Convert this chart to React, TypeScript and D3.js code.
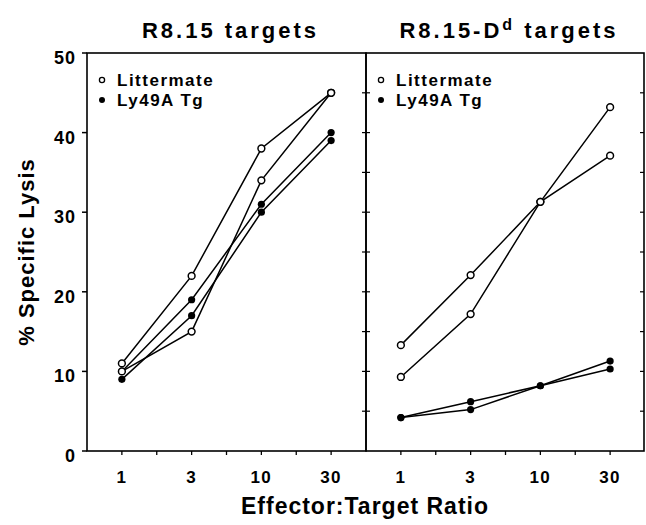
import React, { useEffect, useRef } from 'react';
import * as d3 from 'd3';

// E:T ratios on the x axis
const ratios = ['1', '3', '10', '30'];
const yTicks = [0, 10, 20, 30, 40, 50];

// R8.15 targets
const r815Littermate1 = [11, 22, 38, 45];
const r815Littermate2 = [10, 15, 34, 45];
const r815Tg1 = [10, 19, 31, 40];
const r815Tg2 = [9, 17, 30, 39];

// R8.15-Dd targets
const r815DdLittermate1 = [13.3, 22.1, 31.3, 37.1];
const r815DdLittermate2 = [9.3, 17.2, 31.3, 43.2];
const r815DdTg1 = [4.2, 6.2, 8.2, 11.3];
const r815DdTg2 = [4.2, 5.2, 8.2, 10.3];

const legendLabels = ['Littermate', 'Ly49A Tg'];

const FONT = '"Liberation Sans", Arial, Helvetica, sans-serif';

const App = () => {
    const ref = useRef<SVGSVGElement>(null);

    useEffect(() => {
        const svg = d3.select(ref.current);
        svg.selectAll('*').remove();

        const width = 646, height = 525;
        const top = 53, bottom = 451;
        const panelEdges = [87, 366, 644];

        const y = d3.scaleLinear().domain([0, 50]).range([bottom, top]);

        const panels = [
            { title: 'R8.15 targets', sup: '', open: [r815Littermate1, r815Littermate2], filled: [r815Tg1, r815Tg2] },
            { title: 'R8.15-D', sup: 'd', open: [r815DdLittermate1, r815DdLittermate2], filled: [r815DdTg1, r815DdTg2] },
        ];

        const g = svg.append('g').attr('font-family', FONT).attr('font-weight', 'bold');

        panels.forEach((p, pi) => {
            const x0 = panelEdges[pi], x1 = panelEdges[pi + 1];
            const x = d3.scalePoint<string>().domain(ratios).range([x0, x1 + (pi === 1 ? 1 : 0)]).padding(0.5);
            const pg = g.append('g');

            // frame
            pg.append('rect')
                .attr('x', x0).attr('y', top)
                .attr('width', x1 - x0).attr('height', bottom - top)
                .attr('fill', 'none').attr('stroke', '#000').attr('stroke-width', 1.6);

            // x ticks at points and halfway between
            const tickXs: number[] = [];
            ratios.forEach((r, i) => {
                tickXs.push(x(r)!);
                if (i < ratios.length - 1) tickXs.push((x(r)! + x(ratios[i + 1])!) / 2);
            });
            pg.selectAll('xtick').data(tickXs).enter().append('line')
                .attr('x1', d => d).attr('x2', d => d)
                .attr('y1', bottom).attr('y2', bottom + 4)
                .attr('stroke', '#000').attr('stroke-width', 1.3);

            pg.selectAll('xlab').data(ratios).enter().append('text')
                .attr('x', d => x(d)!).attr('y', 483)
                .attr('text-anchor', 'middle').attr('font-size', 17).attr('letter-spacing', 1.5)
                .text(d => d);

            // inner ticks every 5 on the edges
            const minor = d3.range(5, 50, 5);
            pg.selectAll('ytick').data(minor).enter().append('line')
                .attr('x1', x1 - 4).attr('x2', x1 + (pi === 0 ? 4 : 0))
                .attr('y1', d => y(d)).attr('y2', d => y(d))
                .attr('stroke', '#000').attr('stroke-width', 1.2);

            // title
            const t = pg.append('text')
                .attr('x', (x0 + x1) / 2 + 4).attr('y', 38)
                .attr('text-anchor', 'middle').attr('font-size', 22).attr('letter-spacing', 3);
            t.append('tspan').text(p.title);
            if (p.sup) {
                t.append('tspan').attr('dy', -8).attr('font-size', 16).text(p.sup);
                t.append('tspan').attr('dy', 8).text(' targets');
            }

            // lines
            const line = d3.line<number>().x((d, i) => x(ratios[i])!).y(d => y(d));
            [...p.open, ...p.filled].forEach(s => {
                pg.append('path').attr('d', line(s))
                    .attr('fill', 'none').attr('stroke', '#000').attr('stroke-width', 1.5);
            });

            // markers
            p.filled.forEach(s => {
                pg.selectAll(null).data(s).enter().append('circle')
                    .attr('cx', (d, i) => x(ratios[i])!).attr('cy', d => y(d))
                    .attr('r', 3.6).attr('fill', '#000');
            });
            p.open.forEach(s => {
                pg.selectAll(null).data(s).enter().append('circle')
                    .attr('cx', (d, i) => x(ratios[i])!).attr('cy', d => y(d))
                    .attr('r', 3.4).attr('fill', '#fff').attr('stroke', '#000').attr('stroke-width', 1.5);
            });

            // legend
            const lx = x0 + 15;
            legendLabels.forEach((lab, li) => {
                const ly = 80 + li * 20;
                pg.append('circle').attr('cx', lx).attr('cy', ly)
                    .attr('r', li === 0 ? 2.6 : 3)
                    .attr('fill', li === 0 ? '#fff' : '#000')
                    .attr('stroke', '#000').attr('stroke-width', li === 0 ? 1.3 : 0);
                pg.append('text').attr('x', lx + 15).attr('y', ly + 6)
                    .attr('font-size', 17).attr('letter-spacing', 1.5).text(lab);
            });
        });

        // y axis ticks and labels
        g.selectAll('ytickL').data(yTicks).enter().append('line')
            .attr('x1', panelEdges[0] - 5).attr('x2', panelEdges[0])
            .attr('y1', d => y(d)).attr('y2', d => y(d))
            .attr('stroke', '#000').attr('stroke-width', 1.5);
        g.selectAll('ylab').data(yTicks).enter().append('text')
            .attr('x', 76).attr('y', d => y(d) + 11)
            .attr('text-anchor', 'end').attr('font-size', 18).attr('letter-spacing', 1)
            .text(d => d);

        // axis titles
        g.append('text')
            .attr('transform', `translate(34,${(top + bottom) / 2}) rotate(-90)`)
            .attr('text-anchor', 'middle').attr('font-size', 22).attr('letter-spacing', 1)
            .text('% Specific Lysis');
        g.append('text')
            .attr('x', 365).attr('y', 514)
            .attr('text-anchor', 'middle').attr('font-size', 23).attr('letter-spacing', 1)
            .text('Effector:Target Ratio');

        svg.attr('width', width).attr('height', height);
    }, []);

    return (
        <svg ref={ref} width={646} height={525}
            style={{ position: 'absolute', left: 0, top: 0, background: '#fff' }} />
    );
};

export default App;
